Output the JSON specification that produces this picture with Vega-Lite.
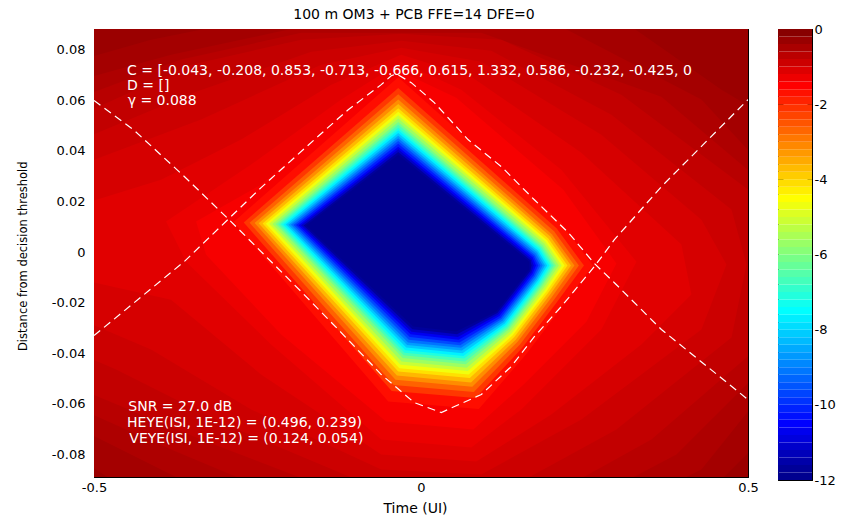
{
  "$schema": "https://vega.github.io/schema/vega-lite/v6.json",
  "background": "white",
  "padding": {"left": 16, "top": 7, "right": 0, "bottom": 0},
  "bounds": "flush",
  "spacing": 30,
  "config": {
    "font": "DejaVu Sans",
    "view": {"stroke": "black", "strokeWidth": 1},
    "axis": {
      "zindex": 1, "grid": false,
      "domainColor": "black", "domainWidth": 1,
      "tickColor": "black", "tickWidth": 1,
      "labelColor": "black", "labelFont": "DejaVu Sans", "labelFontSize": 13,
      "titleColor": "black", "titleFont": "DejaVu Sans", "titleFontWeight": "normal"
    }
  },
  "datasets": {
    "field": [
      {"v":-0.42,"o":1,"x":-0.6,"y":0.1},{"v":-0.42,"o":2,"x":0.6,"y":0.1},{"v":-0.42,"o":3,"x":0.6,"y":-0.1},{"v":-0.42,"o":4,"x":-0.6,"y":-0.1},

      {"v":-0.53,"o":1,"x":-0.5199,"y":0.0761},{"v":-0.53,"o":2,"x":-0.4128,"y":0.084},{"v":-0.53,"o":3,"x":-0.2598,"y":0.0919},{"v":-0.53,"o":4,"x":0.3064,"y":0.0919},{"v":-0.53,"o":5,"x":0.4595,"y":0.0642},{"v":-0.53,"o":6,"x":0.536,"y":0.0524},{"v":-0.53,"o":7,"x":0.536,"y":-0.0701},{"v":-0.53,"o":8,"x":0.4595,"y":-0.0899},{"v":-0.53,"o":9,"x":-0.3975,"y":-0.0958},{"v":-0.53,"o":10,"x":-0.474,"y":-0.0899},{"v":-0.53,"o":11,"x":-0.5199,"y":-0.082},

      {"v":-0.64,"o":1,"x":-0.5199,"y":0.0682},{"v":-0.64,"o":2,"x":-0.3822,"y":0.078},{"v":-0.64,"o":3,"x":-0.1832,"y":0.0891},{"v":-0.64,"o":4,"x":0.2146,"y":0.0891},{"v":-0.64,"o":5,"x":0.4288,"y":0.0603},{"v":-0.64,"o":6,"x":0.5207,"y":0.0346},{"v":-0.64,"o":7,"x":0.5207,"y":-0.0563},{"v":-0.64,"o":8,"x":0.4288,"y":-0.0859},{"v":-0.64,"o":9,"x":0.3523,"y":-0.0958},{"v":-0.64,"o":10,"x":-0.321,"y":-0.0958},{"v":-0.64,"o":11,"x":-0.4281,"y":-0.082},{"v":-0.64,"o":12,"x":-0.5199,"y":-0.0701},

      {"v":-0.76,"o":1,"x":-0.5199,"y":0.0614},{"v":-0.76,"o":2,"x":-0.3669,"y":0.0761},{"v":-0.76,"o":3,"x":-0.1832,"y":0.0867},{"v":-0.76,"o":4,"x":0.0922,"y":0.0867},{"v":-0.76,"o":5,"x":0.3676,"y":0.0614},{"v":-0.76,"o":6,"x":0.5207,"y":0.0279},{"v":-0.76,"o":7,"x":0.5207,"y":-0.0464},{"v":-0.76,"o":8,"x":0.3906,"y":-0.08},{"v":-0.76,"o":9,"x":0.2835,"y":-0.0946},{"v":-0.76,"o":10,"x":-0.2292,"y":-0.0946},{"v":-0.76,"o":11,"x":-0.3822,"y":-0.078},{"v":-0.76,"o":12,"x":-0.5199,"y":-0.0622},

      {"v":-0.88,"o":1,"x":-0.5199,"y":0.0543},{"v":-0.88,"o":2,"x":-0.3516,"y":0.0741},{"v":-0.88,"o":3,"x":-0.1832,"y":0.084},{"v":-0.88,"o":4,"x":-0.0302,"y":0.0863},{"v":-0.88,"o":5,"x":0.1228,"y":0.084},{"v":-0.88,"o":6,"x":0.3064,"y":0.0622},{"v":-0.88,"o":7,"x":0.5207,"y":0.0207},{"v":-0.88,"o":8,"x":0.5207,"y":-0.0365},{"v":-0.88,"o":9,"x":0.3523,"y":-0.0741},{"v":-0.88,"o":10,"x":0.2146,"y":-0.0938},{"v":-0.88,"o":11,"x":-0.1373,"y":-0.0938},{"v":-0.88,"o":12,"x":-0.3363,"y":-0.0741},{"v":-0.88,"o":13,"x":-0.5199,"y":-0.0543},

      {"v":-1.0,"o":1,"x":-0.5199,"y":0.0445},{"v":-1.0,"o":2,"x":-0.3439,"y":0.0634},{"v":-1.0,"o":3,"x":-0.1679,"y":0.0792},{"v":-1.0,"o":4,"x":-0.0302,"y":0.0836},{"v":-1.0,"o":5,"x":0.1075,"y":0.0796},{"v":-1.0,"o":6,"x":0.2911,"y":0.0543},{"v":-1.0,"o":7,"x":0.4748,"y":0.0168},{"v":-1.0,"o":8,"x":0.4977,"y":-0.0049},{"v":-1.0,"o":9,"x":0.4748,"y":-0.0338},{"v":-1.0,"o":10,"x":0.2988,"y":-0.0701},{"v":-1.0,"o":11,"x":0.1534,"y":-0.0907},{"v":-1.0,"o":12,"x":-0.0991,"y":-0.0899},{"v":-1.0,"o":13,"x":-0.298,"y":-0.0682},{"v":-1.0,"o":14,"x":-0.4663,"y":-0.0464},{"v":-1.0,"o":15,"x":-0.5199,"y":-0.0405},

      {"v":-1.12,"o":1,"x":-0.5199,"y":0.0346},{"v":-1.12,"o":2,"x":-0.3363,"y":0.0524},{"v":-1.12,"o":3,"x":-0.1526,"y":0.0741},{"v":-1.12,"o":4,"x":-0.0302,"y":0.0808},{"v":-1.12,"o":5,"x":0.0922,"y":0.0753},{"v":-1.12,"o":6,"x":0.2758,"y":0.0464},{"v":-1.12,"o":7,"x":0.4288,"y":0.0128},{"v":-1.12,"o":8,"x":0.4671,"y":-0.0049},{"v":-1.12,"o":9,"x":0.4288,"y":-0.0306},{"v":-1.12,"o":10,"x":0.2452,"y":-0.0662},{"v":-1.12,"o":11,"x":0.0922,"y":-0.0879},{"v":-1.12,"o":12,"x":-0.0608,"y":-0.0859},{"v":-1.12,"o":13,"x":-0.2598,"y":-0.0622},{"v":-1.12,"o":14,"x":-0.4128,"y":-0.0385},{"v":-1.12,"o":15,"x":-0.5199,"y":-0.0267},

      {"v":-1.24,"o":1,"x":-0.5199,"y":0.0188},{"v":-1.24,"o":2,"x":-0.3975,"y":0.0286},{"v":-1.24,"o":3,"x":-0.2751,"y":0.0445},{"v":-1.24,"o":4,"x":-0.1373,"y":0.0662},{"v":-1.24,"o":5,"x":-0.0302,"y":0.078},{"v":-1.24,"o":6,"x":0.0769,"y":0.0693},{"v":-1.24,"o":7,"x":0.2452,"y":0.0393},{"v":-1.24,"o":8,"x":0.3982,"y":0.003},{"v":-1.24,"o":9,"x":0.4135,"y":-0.0168},{"v":-1.24,"o":10,"x":0.337,"y":-0.0365},{"v":-1.24,"o":11,"x":0.1993,"y":-0.0642},{"v":-1.24,"o":12,"x":0.0845,"y":-0.0828},{"v":-1.24,"o":13,"x":-0.0608,"y":-0.08},{"v":-1.24,"o":14,"x":-0.2445,"y":-0.0484},{"v":-1.24,"o":15,"x":-0.3822,"y":-0.0188},{"v":-1.24,"o":16,"x":-0.5199,"y":-0.0109},

      {"v":-1.36,"o":1,"x":-0.3898,"y":0.0121},{"v":-1.36,"o":2,"x":-0.2598,"y":0.0346},{"v":-1.36,"o":3,"x":-0.122,"y":0.0603},{"v":-1.36,"o":4,"x":-0.0302,"y":0.0753},{"v":-1.36,"o":5,"x":0.0616,"y":0.0642},{"v":-1.36,"o":6,"x":0.2146,"y":0.0326},{"v":-1.36,"o":7,"x":0.3294,"y":-0.0038},{"v":-1.36,"o":8,"x":0.2758,"y":-0.0306},{"v":-1.36,"o":9,"x":0.1534,"y":-0.0622},{"v":-1.36,"o":10,"x":0.0769,"y":-0.0772},{"v":-1.36,"o":11,"x":-0.0608,"y":-0.0741},{"v":-1.36,"o":12,"x":-0.2292,"y":-0.0365},{"v":-1.36,"o":13,"x":-0.3592,"y":-0.0038},

      {"v":-1.5,"o":1,"x":-0.3439,"y":0.0121},{"v":-1.5,"o":2,"x":-0.2445,"y":0.0267},{"v":-1.5,"o":3,"x":-0.1144,"y":0.0555},{"v":-1.5,"o":4,"x":-0.0302,"y":0.0713},{"v":-1.5,"o":5,"x":0.0539,"y":0.061},{"v":-1.5,"o":6,"x":0.2177,"y":0.0247},{"v":-1.5,"o":7,"x":0.2988,"y":-0.0045},{"v":-1.5,"o":8,"x":0.2529,"y":-0.0275},{"v":-1.5,"o":9,"x":0.1565,"y":-0.0524},{"v":-1.5,"o":10,"x":0.08,"y":-0.0701},{"v":-1.5,"o":11,"x":-0.0532,"y":-0.067},{"v":-1.5,"o":12,"x":-0.2138,"y":-0.0326},{"v":-1.5,"o":13,"x":-0.3286,"y":-0.001},

      {"v":-1.75,"o":1,"x":-0.2865,"y":0.0119},{"v":-1.75,"o":2,"x":-0.0348,"y":0.0691},{"v":-1.75,"o":3,"x":0.2141,"y":0.0116},{"v":-1.75,"o":4,"x":0.2628,"y":-0.0053},{"v":-1.75,"o":5,"x":0.2133,"y":-0.0224},{"v":-1.75,"o":6,"x":0.1611,"y":-0.0403},{"v":-1.75,"o":7,"x":0.0884,"y":-0.062},{"v":-1.75,"o":8,"x":-0.0501,"y":-0.0591},
      {"v":-2.25,"o":1,"x":-0.271,"y":0.0117},{"v":-2.25,"o":2,"x":-0.0348,"y":0.0649},{"v":-2.25,"o":3,"x":0.2073,"y":0.0094},{"v":-2.25,"o":4,"x":0.2492,"y":-0.0053},{"v":-2.25,"o":5,"x":0.2066,"y":-0.0202},{"v":-2.25,"o":6,"x":0.1546,"y":-0.0379},{"v":-2.25,"o":7,"x":0.0835,"y":-0.0577},{"v":-2.25,"o":8,"x":-0.0448,"y":-0.0549},
      {"v":-2.75,"o":1,"x":-0.2621,"y":0.0116},{"v":-2.75,"o":2,"x":-0.0348,"y":0.0624},{"v":-2.75,"o":3,"x":0.2034,"y":0.0082},{"v":-2.75,"o":4,"x":0.2414,"y":-0.0053},{"v":-2.75,"o":5,"x":0.2028,"y":-0.019},{"v":-2.75,"o":6,"x":0.151,"y":-0.0366},{"v":-2.75,"o":7,"x":0.0808,"y":-0.0553},{"v":-2.75,"o":8,"x":-0.0417,"y":-0.0525},
      {"v":-3.25,"o":1,"x":-0.2544,"y":0.0115},{"v":-3.25,"o":2,"x":-0.0348,"y":0.0603},{"v":-3.25,"o":3,"x":0.2,"y":0.0071},{"v":-3.25,"o":4,"x":0.2346,"y":-0.0053},{"v":-3.25,"o":5,"x":0.1995,"y":-0.0179},{"v":-3.25,"o":6,"x":0.1477,"y":-0.0354},{"v":-3.25,"o":7,"x":0.0784,"y":-0.0532},{"v":-3.25,"o":8,"x":-0.039,"y":-0.0505},
      {"v":-3.75,"o":1,"x":-0.2483,"y":0.0114},{"v":-3.75,"o":2,"x":-0.0348,"y":0.0586},{"v":-3.75,"o":3,"x":0.1974,"y":0.0063},{"v":-3.75,"o":4,"x":0.2293,"y":-0.0053},{"v":-3.75,"o":5,"x":0.1969,"y":-0.017},{"v":-3.75,"o":6,"x":0.1452,"y":-0.0345},{"v":-3.75,"o":7,"x":0.0765,"y":-0.0515},{"v":-3.75,"o":8,"x":-0.0369,"y":-0.0488},
      {"v":-4.25,"o":1,"x":-0.2422,"y":0.0113},{"v":-4.25,"o":2,"x":-0.0348,"y":0.0569},{"v":-4.25,"o":3,"x":0.1947,"y":0.0054},{"v":-4.25,"o":4,"x":0.224,"y":-0.0053},{"v":-4.25,"o":5,"x":0.1943,"y":-0.0162},{"v":-4.25,"o":6,"x":0.1427,"y":-0.0336},{"v":-4.25,"o":7,"x":0.0746,"y":-0.0498},{"v":-4.25,"o":8,"x":-0.0348,"y":-0.0472},
      {"v":-4.75,"o":1,"x":-0.2372,"y":0.0112},{"v":-4.75,"o":2,"x":-0.0348,"y":0.0555},{"v":-4.75,"o":3,"x":0.1925,"y":0.0047},{"v":-4.75,"o":4,"x":0.2196,"y":-0.0053},{"v":-4.75,"o":5,"x":0.1921,"y":-0.0155},{"v":-4.75,"o":6,"x":0.1406,"y":-0.0328},{"v":-4.75,"o":7,"x":0.073,"y":-0.0484},{"v":-4.75,"o":8,"x":-0.0331,"y":-0.0459},
      {"v":-5.25,"o":1,"x":-0.2322,"y":0.0112},{"v":-5.25,"o":2,"x":-0.0348,"y":0.0541},{"v":-5.25,"o":3,"x":0.1904,"y":0.0041},{"v":-5.25,"o":4,"x":0.2152,"y":-0.0053},{"v":-5.25,"o":5,"x":0.19,"y":-0.0148},{"v":-5.25,"o":6,"x":0.1386,"y":-0.0321},{"v":-5.25,"o":7,"x":0.0715,"y":-0.047},{"v":-5.25,"o":8,"x":-0.0314,"y":-0.0445},
      {"v":-5.75,"o":1,"x":-0.2272,"y":0.0111},{"v":-5.75,"o":2,"x":-0.0348,"y":0.0528},{"v":-5.75,"o":3,"x":0.1882,"y":0.0034},{"v":-5.75,"o":4,"x":0.2108,"y":-0.0053},{"v":-5.75,"o":5,"x":0.1878,"y":-0.0141},{"v":-5.75,"o":6,"x":0.1365,"y":-0.0313},{"v":-5.75,"o":7,"x":0.07,"y":-0.0457},{"v":-5.75,"o":8,"x":-0.0297,"y":-0.0432},
      {"v":-6.25,"o":1,"x":-0.2222,"y":0.0111},{"v":-6.25,"o":2,"x":-0.0348,"y":0.0514},{"v":-6.25,"o":3,"x":0.186,"y":0.0027},{"v":-6.25,"o":4,"x":0.2065,"y":-0.0053},{"v":-6.25,"o":5,"x":0.1857,"y":-0.0134},{"v":-6.25,"o":6,"x":0.1344,"y":-0.0306},{"v":-6.25,"o":7,"x":0.0684,"y":-0.0443},{"v":-6.25,"o":8,"x":-0.0279,"y":-0.0419},
      {"v":-6.75,"o":1,"x":-0.2183,"y":0.011},{"v":-6.75,"o":2,"x":-0.0348,"y":0.0503},{"v":-6.75,"o":3,"x":0.1843,"y":0.0021},{"v":-6.75,"o":4,"x":0.2031,"y":-0.0053},{"v":-6.75,"o":5,"x":0.184,"y":-0.0129},{"v":-6.75,"o":6,"x":0.1328,"y":-0.03},{"v":-6.75,"o":7,"x":0.0672,"y":-0.0432},{"v":-6.75,"o":8,"x":-0.0266,"y":-0.0408},
      {"v":-7.25,"o":1,"x":-0.2144,"y":0.011},{"v":-7.25,"o":2,"x":-0.0348,"y":0.0492},{"v":-7.25,"o":3,"x":0.1826,"y":0.0016},{"v":-7.25,"o":4,"x":0.1997,"y":-0.0053},{"v":-7.25,"o":5,"x":0.1823,"y":-0.0123},{"v":-7.25,"o":6,"x":0.1312,"y":-0.0294},{"v":-7.25,"o":7,"x":0.066,"y":-0.0421},{"v":-7.25,"o":8,"x":-0.0253,"y":-0.0398},
      {"v":-7.75,"o":1,"x":-0.2105,"y":0.0109},{"v":-7.75,"o":2,"x":-0.0348,"y":0.0482},{"v":-7.75,"o":3,"x":0.1809,"y":0.0011},{"v":-7.75,"o":4,"x":0.1963,"y":-0.0053},{"v":-7.75,"o":5,"x":0.1807,"y":-0.0118},{"v":-7.75,"o":6,"x":0.1296,"y":-0.0288},{"v":-7.75,"o":7,"x":0.0648,"y":-0.0411},{"v":-7.75,"o":8,"x":-0.0239,"y":-0.0388},
      {"v":-8.25,"o":1,"x":-0.2066,"y":0.0109},{"v":-8.25,"o":2,"x":-0.0348,"y":0.0471},{"v":-8.25,"o":3,"x":0.1792,"y":0.0005},{"v":-8.25,"o":4,"x":0.1929,"y":-0.0053},{"v":-8.25,"o":5,"x":0.179,"y":-0.0112},{"v":-8.25,"o":6,"x":0.128,"y":-0.0282},{"v":-8.25,"o":7,"x":0.0636,"y":-0.04},{"v":-8.25,"o":8,"x":-0.0226,"y":-0.0377},
      {"v":-8.75,"o":1,"x":-0.2028,"y":0.0108},{"v":-8.75,"o":2,"x":-0.0348,"y":0.046},{"v":-8.75,"o":3,"x":0.1775,"y":0.0},{"v":-8.75,"o":4,"x":0.1895,"y":-0.0053},{"v":-8.75,"o":5,"x":0.1773,"y":-0.0107},{"v":-8.75,"o":6,"x":0.1264,"y":-0.0276},{"v":-8.75,"o":7,"x":0.0624,"y":-0.0389},{"v":-8.75,"o":8,"x":-0.0212,"y":-0.0367},
      {"v":-9.25,"o":1,"x":-0.1989,"y":0.0108},{"v":-9.25,"o":2,"x":-0.0348,"y":0.045},{"v":-9.25,"o":3,"x":0.1758,"y":-0.0005},{"v":-9.25,"o":4,"x":0.1861,"y":-0.0053},{"v":-9.25,"o":5,"x":0.1757,"y":-0.0102},{"v":-9.25,"o":6,"x":0.1248,"y":-0.027},{"v":-9.25,"o":7,"x":0.0612,"y":-0.0378},{"v":-9.25,"o":8,"x":-0.0199,"y":-0.0357},
      {"v":-9.75,"o":1,"x":-0.195,"y":0.0107},{"v":-9.75,"o":2,"x":-0.0348,"y":0.0439},{"v":-9.75,"o":3,"x":0.1741,"y":-0.0011},{"v":-9.75,"o":4,"x":0.1827,"y":-0.0053},{"v":-9.75,"o":5,"x":0.174,"y":-0.0096},{"v":-9.75,"o":6,"x":0.1232,"y":-0.0264},{"v":-9.75,"o":7,"x":0.06,"y":-0.0368},{"v":-9.75,"o":8,"x":-0.0186,"y":-0.0346},
      {"v":-10.25,"o":1,"x":-0.1911,"y":0.0107},{"v":-10.25,"o":2,"x":-0.0348,"y":0.0428},{"v":-10.25,"o":3,"x":0.1724,"y":-0.0016},{"v":-10.25,"o":4,"x":0.1793,"y":-0.0053},{"v":-10.25,"o":5,"x":0.1723,"y":-0.0091},{"v":-10.25,"o":6,"x":0.1216,"y":-0.0259},{"v":-10.25,"o":7,"x":0.0588,"y":-0.0357},{"v":-10.25,"o":8,"x":-0.0172,"y":-0.0336},
      {"v":-10.75,"o":1,"x":-0.1872,"y":0.0106},{"v":-10.75,"o":2,"x":-0.0348,"y":0.0417},{"v":-10.75,"o":3,"x":0.1707,"y":-0.0021},{"v":-10.75,"o":4,"x":0.1759,"y":-0.0053},{"v":-10.75,"o":5,"x":0.1707,"y":-0.0085},{"v":-10.75,"o":6,"x":0.12,"y":-0.0253},{"v":-10.75,"o":7,"x":0.0576,"y":-0.0346},{"v":-10.75,"o":8,"x":-0.0159,"y":-0.0325},
      {"v":-11.25,"o":1,"x":-0.1834,"y":0.0106},{"v":-11.25,"o":2,"x":-0.0348,"y":0.0407},{"v":-11.25,"o":3,"x":0.169,"y":-0.0027},{"v":-11.25,"o":4,"x":0.1725,"y":-0.0053},{"v":-11.25,"o":5,"x":0.169,"y":-0.008},{"v":-11.25,"o":6,"x":0.1184,"y":-0.0247},{"v":-11.25,"o":7,"x":0.0563,"y":-0.0336},{"v":-11.25,"o":8,"x":-0.0145,"y":-0.0315},
      {"v":-11.75,"o":1,"x":-0.1795,"y":0.0105},{"v":-11.75,"o":2,"x":-0.0348,"y":0.0396},{"v":-11.75,"o":3,"x":0.1673,"y":-0.0032},{"v":-11.75,"o":4,"x":0.1691,"y":-0.0053},{"v":-11.75,"o":5,"x":0.1673,"y":-0.0075},{"v":-11.75,"o":6,"x":0.1168,"y":-0.0241},{"v":-11.75,"o":7,"x":0.0551,"y":-0.0325},{"v":-11.75,"o":8,"x":-0.0132,"y":-0.0305},
      {"v":-12,"o":1,"x":-0.1756,"y":0.0105},{"v":-12,"o":2,"x":-0.0348,"y":0.0385},{"v":-12,"o":3,"x":0.1657,"y":-0.0038},{"v":-12,"o":4,"x":0.1657,"y":-0.0053},{"v":-12,"o":5,"x":0.1657,"y":-0.0069},{"v":-12,"o":6,"x":0.1152,"y":-0.0235},{"v":-12,"o":7,"x":0.0539,"y":-0.0314},{"v":-12,"o":8,"x":-0.0119,"y":-0.0294}
    ],
    "eye": [
      {"k":"lower","x":-0.5,"y":0.0599},{"k":"lower","x":-0.4388,"y":0.0482},{"k":"lower","x":-0.3623,"y":0.03},{"k":"lower","x":-0.2934,"y":0.0128},{"k":"lower","x":-0.2445,"y":0.0002},{"k":"lower","x":-0.1832,"y":-0.0156},{"k":"lower","x":-0.122,"y":-0.0318},{"k":"lower","x":-0.0608,"y":-0.0484},{"k":"lower","x":-0.0103,"y":-0.0595},{"k":"lower","x":0.031,"y":-0.0634},{"k":"lower","x":0.0922,"y":-0.0563},{"k":"lower","x":0.1381,"y":-0.0452},{"k":"lower","x":0.1733,"y":-0.0334},{"k":"lower","x":0.2146,"y":-0.0215},{"k":"lower","x":0.2651,"y":-0.0057},{"k":"lower","x":0.2957,"y":0.0049},{"k":"lower","x":0.3676,"y":0.0259},{"k":"lower","x":0.5,"y":0.0603},
      {"k":"upper","x":-0.5,"y":-0.033},{"k":"upper","x":-0.3623,"y":-0.0038},{"k":"upper","x":-0.2445,"y":0.0255},{"k":"upper","x":-0.1633,"y":0.0444},{"k":"upper","x":-0.1113,"y":0.0563},{"k":"upper","x":-0.0608,"y":0.0662},{"k":"upper","x":-0.0455,"y":0.0697},{"k":"upper","x":-0.0379,"y":0.0705},{"k":"upper","x":-0.0149,"y":0.067},{"k":"upper","x":0.0203,"y":0.0591},{"k":"upper","x":0.0723,"y":0.0444},{"k":"upper","x":0.1228,"y":0.0338},{"k":"upper","x":0.1733,"y":0.0207},{"k":"upper","x":0.2253,"y":0.0077},{"k":"upper","x":0.2651,"y":-0.0045},{"k":"upper","x":0.2957,"y":-0.0121},{"k":"upper","x":0.3676,"y":-0.0306},{"k":"upper","x":0.5,"y":-0.0583}
    ],
    "notes": [
      {"x":-0.4495,"y":0.0701,"t":"C = [-0.043, -0.208, 0.853, -0.713, -0.666, 0.615, 1.332, 0.586, -0.232, -0.425, 0"},
      {"x":-0.4495,"y":0.064,"t":"D = []"},
      {"x":-0.4485,"y":0.0581,"t":"γ = 0.088"},
      {"x":-0.4475,"y":-0.0628,"t":"SNR = 27.0 dB"},
      {"x":-0.4495,"y":-0.069,"t":"HEYE(ISI, 1E-12) = (0.496, 0.239)"},
      {"x":-0.446,"y":-0.0753,"t":"VEYE(ISI, 1E-12) = (0.124, 0.054)"}
    ],
    "bar": [
      {"lo":-12,"hi":-11.8},{"lo":-11.8,"hi":-11.6},{"lo":-11.6,"hi":-11.4},{"lo":-11.4,"hi":-11.2},{"lo":-11.2,"hi":-11},{"lo":-11,"hi":-10.8},{"lo":-10.8,"hi":-10.6},{"lo":-10.6,"hi":-10.4},{"lo":-10.4,"hi":-10.2},{"lo":-10.2,"hi":-10},
      {"lo":-10,"hi":-9.8},{"lo":-9.8,"hi":-9.6},{"lo":-9.6,"hi":-9.4},{"lo":-9.4,"hi":-9.2},{"lo":-9.2,"hi":-9},{"lo":-9,"hi":-8.8},{"lo":-8.8,"hi":-8.6},{"lo":-8.6,"hi":-8.4},{"lo":-8.4,"hi":-8.2},{"lo":-8.2,"hi":-8},
      {"lo":-8,"hi":-7.8},{"lo":-7.8,"hi":-7.6},{"lo":-7.6,"hi":-7.4},{"lo":-7.4,"hi":-7.2},{"lo":-7.2,"hi":-7},{"lo":-7,"hi":-6.8},{"lo":-6.8,"hi":-6.6},{"lo":-6.6,"hi":-6.4},{"lo":-6.4,"hi":-6.2},{"lo":-6.2,"hi":-6},
      {"lo":-6,"hi":-5.8},{"lo":-5.8,"hi":-5.6},{"lo":-5.6,"hi":-5.4},{"lo":-5.4,"hi":-5.2},{"lo":-5.2,"hi":-5},{"lo":-5,"hi":-4.8},{"lo":-4.8,"hi":-4.6},{"lo":-4.6,"hi":-4.4},{"lo":-4.4,"hi":-4.2},{"lo":-4.2,"hi":-4},
      {"lo":-4,"hi":-3.8},{"lo":-3.8,"hi":-3.6},{"lo":-3.6,"hi":-3.4},{"lo":-3.4,"hi":-3.2},{"lo":-3.2,"hi":-3},{"lo":-3,"hi":-2.8},{"lo":-2.8,"hi":-2.6},{"lo":-2.6,"hi":-2.4},{"lo":-2.4,"hi":-2.2},{"lo":-2.2,"hi":-2},
      {"lo":-2,"hi":-1.8},{"lo":-1.8,"hi":-1.6},{"lo":-1.6,"hi":-1.4},{"lo":-1.4,"hi":-1.2},{"lo":-1.2,"hi":-1},{"lo":-1,"hi":-0.8},{"lo":-0.8,"hi":-0.6},{"lo":-0.6,"hi":-0.4},{"lo":-0.4,"hi":-0.2},{"lo":-0.2,"hi":0}
    ]
  },
  "resolve": {"scale": {"x": "independent", "y": "independent"}},
  "hconcat": [
    {
      "width": 654,
      "height": 448,
      "title": {"text": "100 m OM3 + PCB FFE=14 DFE=0", "fontSize": 14, "fontWeight": "normal", "color": "black", "anchor": "middle", "frame": "group", "offset": -4, "baseline": "alphabetic", "dx": -7},
      "layer": [
        {
          "data": {"name": "field"},
          "mark": {"type": "line", "filled": true, "clip": true, "interpolate": "linear"},
          "encoding": {
            "x": {"field": "x", "type": "quantitative",
                  "scale": {"domain": [-0.5, 0.5], "nice": false, "zero": false},
                  "axis": {"orient": "bottom", "values": [-0.5, 0, 0.5], "labelFlush": false, "labelOverlap": false,
                           "labelExpr": "datum.value == 0 ? '0' : (datum.value < 0 ? '-' : '') + format(abs(datum.value), '.1f')",
                           "labelPadding": 10, "tickSize": -6,
                           "title": "Time (UI)", "titleFontSize": 14, "titleX": 321, "titleY": 35.5, "titleAlign": "center", "titleBaseline": "alphabetic"}},
            "y": {"field": "y", "type": "quantitative",
                  "scale": {"domain": [-0.0889, 0.0882], "nice": false, "zero": false},
                  "axis": {"orient": "left", "values": [-0.08, -0.06, -0.04, -0.02, 0, 0.02, 0.04, 0.06, 0.08], "labelOverlap": false,
                           "labelExpr": "datum.value == 0 ? '0' : (datum.value < 0 ? '-' : '') + format(abs(datum.value), '.2f')",
                           "labelPadding": 15, "tickSize": -6,
                           "title": "Distance from decision threshold", "titleFontSize": 11.5, "titleX": -70.75, "titleY": 226.7, "titleAngle": 270, "titleAlign": "center", "titleBaseline": "middle"}},
            "color": {"field": "v", "type": "quantitative", "legend": null,
                      "scale": {"type": "linear", "domain": [-11.9, -10.6, -7.6, -4.6, -1.6, -0.1], "range": ["#00008f", "#0000ff", "#00ffff", "#ffff00", "#ff0000", "#800000"], "interpolate": "rgb", "clamp": true}},
            "detail": {"field": "v", "type": "nominal"},
            "order": {"field": "o", "type": "quantitative"}
          }
        },
        {
          "data": {"name": "eye"},
          "mark": {"type": "line", "clip": true, "color": "white", "strokeWidth": 1.2, "strokeDash": [8, 5]},
          "encoding": {
            "x": {"field": "x", "type": "quantitative",
                  "axis": {"orient": "top", "values": [-0.5, 0, 0.5], "labels": false, "title": null, "tickSize": -6}},
            "y": {"field": "y", "type": "quantitative",
                  "axis": {"orient": "right", "values": [-0.08, -0.06, -0.04, -0.02, 0, 0.02, 0.04, 0.06, 0.08], "labels": false, "title": null, "tickSize": -6}},
            "detail": {"field": "k", "type": "nominal"}
          }
        },
        {
          "data": {"name": "notes"},
          "mark": {"type": "text", "align": "left", "baseline": "alphabetic", "color": "white", "font": "DejaVu Sans", "fontSize": 14, "clip": true},
          "encoding": {
            "x": {"field": "x", "type": "quantitative", "axis": null},
            "y": {"field": "y", "type": "quantitative", "axis": null},
            "text": {"field": "t"}
          }
        }
      ],
      "resolve": {"axis": {"x": "independent", "y": "independent"}}
    },
    {
      "width": 34,
      "height": 451,
      "data": {"name": "bar"},
      "layer": [
        {
          "mark": {"type": "rect"},
          "encoding": {
            "x": {"datum": 0, "type": "quantitative", "scale": {"domain": [0, 1], "nice": false, "zero": false},
                  "axis": {"orient": "bottom", "ticks": false, "labels": false, "title": null}},
            "x2": {"datum": 1},
            "y": {"field": "lo", "type": "quantitative", "scale": {"domain": [-12, 0], "nice": false, "zero": false},
                  "axis": {"orient": "right", "values": [-12, -10, -8, -6, -4, -2, 0], "labelOverlap": false,
                           "labelExpr": "datum.value == 0 ? '0' : '-' + abs(datum.value)",
                           "labelPadding": 7, "tickSize": -5, "title": null}},
            "y2": {"field": "hi"},
            "color": {"field": "lo", "type": "quantitative", "legend": null,
                      "scale": {"type": "linear", "domain": [-11.9, -10.6, -7.6, -4.6, -1.6, -0.1], "range": ["#00008f", "#0000ff", "#00ffff", "#ffff00", "#ff0000", "#800000"], "interpolate": "rgb", "clamp": true}}
          }
        },
        {
          "mark": {"type": "rect", "opacity": 0},
          "encoding": {
            "x": {"datum": 0, "type": "quantitative",
                  "axis": {"orient": "top", "ticks": false, "labels": false, "title": null}},
            "x2": {"datum": 1},
            "y": {"field": "lo", "type": "quantitative",
                  "axis": {"orient": "left", "values": [-12, -10, -8, -6, -4, -2, 0], "labels": false, "tickSize": -5, "title": null}},
            "y2": {"field": "hi"}
          }
        }
      ],
      "resolve": {"axis": {"x": "independent", "y": "independent"}}
    }
  ]
}
